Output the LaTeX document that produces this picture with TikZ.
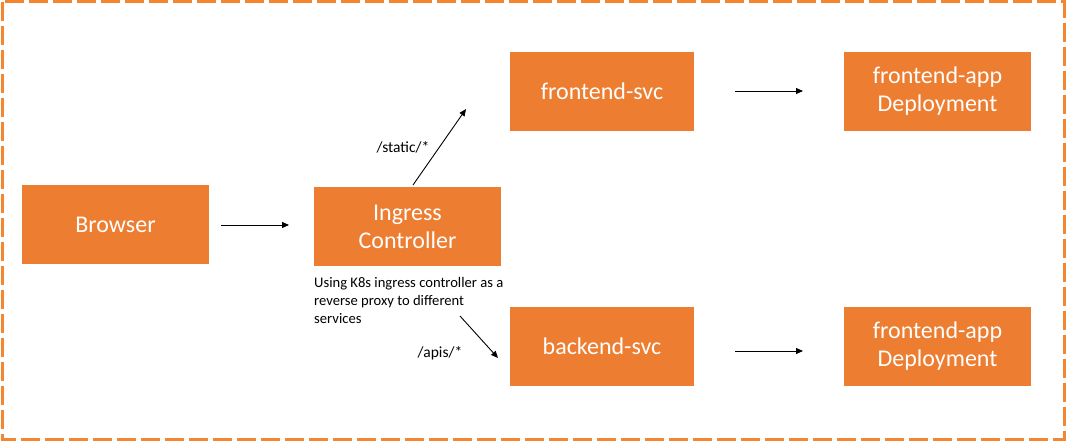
\documentclass[tikz,border=0pt]{standalone}
\usepackage{fontspec}
\setmainfont{Carlito}
\usetikzlibrary{arrows.meta}
\definecolor{boxorange}{HTML}{ED7D31}
\definecolor{dashorange}{HTML}{F4862F}
\tikzset{
  box/.style={fill=boxorange, draw=none, text=white, minimum width=187pt, minimum height=79pt,
    align=center, font=\fontsize{24}{28}\selectfont, inner sep=0pt},
  conn/.style={-{Triangle[length=7pt,width=6pt]}, line width=0.9pt, black},
  lbl/.style={font=\fontsize{15.5}{18}\selectfont, inner sep=0pt},
}
\begin{document}
\begin{tikzpicture}[x=1pt,y=-1pt]
\useasboundingbox (0,0) rectangle (1066,441);
\draw[dashorange, line width=3pt, dash pattern=on 19pt off 5pt] (2,2) rectangle (1064,439);

\node[box] (browser) at (115.5,224.5) {Browser};
\node[box] (ingress) at (407.5,226.5) {Ingress\\Controller};
\node[box, minimum width=184pt] (fsvc) at (602,91.5) {frontend-svc};
\node[box, minimum width=184pt] (bsvc) at (602,346.5) {backend-svc};
\node[box] (fapp) at (937.5,91.5) {frontend-app\\Deployment};
\node[box] (bapp) at (937.5,346.5) {frontend-app\\Deployment};

\coordinate (a1s) at (221,225);
\coordinate (a1e) at (289,225);
\coordinate (a2s) at (413,185);
\coordinate (a2e) at (466,109);
\coordinate (a3s) at (460,316);
\coordinate (a3e) at (498,358);
\coordinate (a4s) at (735,91);
\coordinate (a4e) at (803,91);
\coordinate (a5s) at (735,351);
\coordinate (a5e) at (803,351);

\draw[conn] (a1s) -- (a1e);
\draw[conn] (a2s) -- (a2e);
\draw[conn] (a3s) -- (a3e);
\draw[conn] (a4s) -- (a4e);
\draw[conn] (a5s) -- (a5e);

\node[lbl] (static) at (403,147) {/static/*};
\node[lbl] (apis) at (440,353) {/apis/*};
\node[lbl, anchor=north west, align=left, font=\fontsize{14.6}{18}\selectfont] (desc) at (314,277)
  {Using K8s ingress controller as a\\reverse proxy to different\\services};
\end{tikzpicture}
\end{document}
